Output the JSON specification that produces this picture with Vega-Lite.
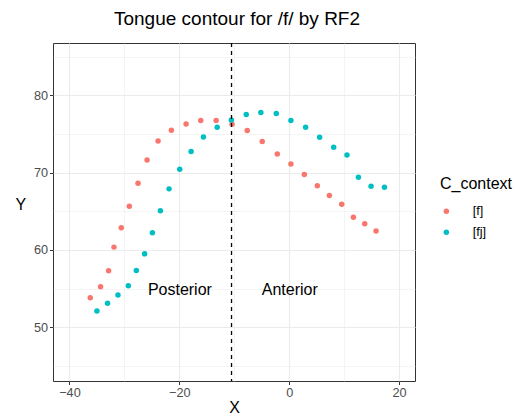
{
  "$schema": "https://vega.github.io/schema/vega-lite/v6.json",
  "width": 362,
  "height": 338,
  "autosize": "none",
  "padding": {"left": 53, "top": 43, "right": 99, "bottom": 36},
  "background": "white",
  "title": {"text": "Tongue contour for /f/ by RF2", "fontSize": 19, "font": "Liberation Sans", "fontWeight": "normal", "color": "black", "anchor": "middle", "offset": 13, "dx": 3},
  "config": {
    "font": "Liberation Sans",
    "view": {"stroke": "#333333", "strokeWidth": 1}
  },
  "datasets": {
    "pts": [
      {"X": -36.22, "Y": 53.82, "C_context": "[f]"},
      {"X": -34.34, "Y": 55.24, "C_context": "[f]"},
      {"X": -32.88, "Y": 57.31, "C_context": "[f]"},
      {"X": -31.90, "Y": 60.37, "C_context": "[f]"},
      {"X": -30.57, "Y": 62.86, "C_context": "[f]"},
      {"X": -29.11, "Y": 65.66, "C_context": "[f]"},
      {"X": -27.52, "Y": 68.64, "C_context": "[f]"},
      {"X": -25.88, "Y": 71.64, "C_context": "[f]"},
      {"X": -23.87, "Y": 74.10, "C_context": "[f]"},
      {"X": -21.45, "Y": 75.48, "C_context": "[f]"},
      {"X": -18.77, "Y": 76.29, "C_context": "[f]"},
      {"X": -16.10, "Y": 76.73, "C_context": "[f]"},
      {"X": -13.30, "Y": 76.73, "C_context": "[f]"},
      {"X": -10.41, "Y": 76.25, "C_context": "[f]"},
      {"X": -7.64, "Y": 75.44, "C_context": "[f]"},
      {"X": -4.91, "Y": 74.02, "C_context": "[f]"},
      {"X": -2.17, "Y": 72.42, "C_context": "[f]"},
      {"X": 0.31, "Y": 71.13, "C_context": "[f]"},
      {"X": 2.75, "Y": 69.76, "C_context": "[f]"},
      {"X": 5.12, "Y": 68.29, "C_context": "[f]"},
      {"X": 7.31, "Y": 67.05, "C_context": "[f]"},
      {"X": 9.56, "Y": 65.92, "C_context": "[f]"},
      {"X": 11.69, "Y": 64.24, "C_context": "[f]"},
      {"X": 13.75, "Y": 63.38, "C_context": "[f]"},
      {"X": 15.81, "Y": 62.44, "C_context": "[f]"},
      {"X": -35.00, "Y": 52.10, "C_context": "[fj]"},
      {"X": -33.07, "Y": 53.10, "C_context": "[fj]"},
      {"X": -31.17, "Y": 54.17, "C_context": "[fj]"},
      {"X": -29.29, "Y": 55.37, "C_context": "[fj]"},
      {"X": -27.83, "Y": 57.36, "C_context": "[fj]"},
      {"X": -26.32, "Y": 59.50, "C_context": "[fj]"},
      {"X": -24.91, "Y": 62.22, "C_context": "[fj]"},
      {"X": -23.45, "Y": 65.06, "C_context": "[fj]"},
      {"X": -21.87, "Y": 67.90, "C_context": "[fj]"},
      {"X": -19.93, "Y": 70.44, "C_context": "[fj]"},
      {"X": -17.86, "Y": 72.73, "C_context": "[fj]"},
      {"X": -15.61, "Y": 74.61, "C_context": "[fj]"},
      {"X": -13.11, "Y": 75.87, "C_context": "[fj]"},
      {"X": -10.54, "Y": 76.81, "C_context": "[fj]"},
      {"X": -7.82, "Y": 77.51, "C_context": "[fj]"},
      {"X": -5.16, "Y": 77.77, "C_context": "[fj]"},
      {"X": -2.35, "Y": 77.64, "C_context": "[fj]"},
      {"X": 0.31, "Y": 76.73, "C_context": "[fj]"},
      {"X": 2.99, "Y": 75.87, "C_context": "[fj]"},
      {"X": 5.54, "Y": 74.58, "C_context": "[fj]"},
      {"X": 8.10, "Y": 73.28, "C_context": "[fj]"},
      {"X": 10.52, "Y": 72.29, "C_context": "[fj]"},
      {"X": 12.60, "Y": 69.41, "C_context": "[fj]"},
      {"X": 14.90, "Y": 68.25, "C_context": "[fj]"},
      {"X": 17.34, "Y": 68.12, "C_context": "[fj]"}
    ],
    "vline": [{"X": -10.5}],
    "labels": [
      {"X": -19.9, "Y": 54.8, "label": "Posterior"},
      {"X": 0.1, "Y": 54.8, "label": "Anterior"}
    ]
  },
  "layer": [
    {
      "data": {"name": "pts"},
      "mark": {"type": "point", "filled": true, "opacity": 1, "size": 30},
      "encoding": {
        "x": {
          "field": "X", "type": "quantitative",
          "scale": {"domain": [-43.0, 22.9], "nice": false, "zero": false},
          "axis": {
            "title": "X", "titleFontSize": 16, "titleFontWeight": "normal", "titleColor": "black", "titlePadding": 0, "titleBaseline": "top",
            "values": [-40, -30, -20, -10, 0, 10, 20],
            "labelExpr": "datum.value % 20 === 0 ? datum.label : ''",
            "labelColor": "#4d4d4d", "labelFontSize": 12.7, "labelPadding": 2,
            "domain": false,
            "tickColor": {"condition": {"test": "datum.value % 20 === 0", "value": "#333333"}, "value": "transparent"},
            "tickSize": 3.5,
            "grid": true, "gridColor": "#ebebeb",
            "gridWidth": {"condition": {"test": "datum.value % 20 === 0", "value": 1.1}, "value": 0.55}
          }
        },
        "y": {
          "field": "Y", "type": "quantitative",
          "scale": {"domain": [43.06, 86.76], "nice": false, "zero": false},
          "axis": {
            "title": "Y", "titleFontSize": 16, "titleFontWeight": "normal", "titleColor": "black", "titleAngle": 0, "titlePadding": 13,
            "values": [45, 50, 55, 60, 65, 70, 75, 80, 85],
            "labelExpr": "datum.value % 10 === 0 ? datum.label : ''",
            "labelColor": "#4d4d4d", "labelFontSize": 12.7, "labelPadding": 2,
            "domain": false,
            "tickColor": {"condition": {"test": "datum.value % 10 === 0", "value": "#333333"}, "value": "transparent"},
            "tickSize": 3.5,
            "grid": true, "gridColor": "#ebebeb",
            "gridWidth": {"condition": {"test": "datum.value % 10 === 0", "value": 1.1}, "value": 0.55}
          }
        },
        "color": {
          "field": "C_context", "type": "nominal",
          "scale": {"domain": ["[f]", "[fj]"], "range": ["#F8766D", "#00BFC4"]},
          "legend": {
            "title": "C_context", "titleFontSize": 16, "titleFontWeight": "normal", "titleColor": "black",
            "labelFontSize": 12.7, "labelColor": "black", "symbolSize": 30, "symbolType": "circle",
            "orient": "none", "legendX": 387, "legendY": 133, "rowPadding": 7, "titlePadding": 13, "labelOffset": 20
          }
        }
      }
    },
    {
      "data": {"name": "vline"},
      "mark": {"type": "rule", "color": "black", "strokeDash": [4, 4], "strokeWidth": 1.3},
      "encoding": {"x": {"field": "X", "type": "quantitative"}}
    },
    {
      "data": {"name": "labels"},
      "mark": {"type": "text", "fontSize": 16, "color": "black", "font": "Liberation Sans"},
      "encoding": {
        "x": {"field": "X", "type": "quantitative"},
        "y": {"field": "Y", "type": "quantitative"},
        "text": {"field": "label"}
      }
    }
  ]
}
